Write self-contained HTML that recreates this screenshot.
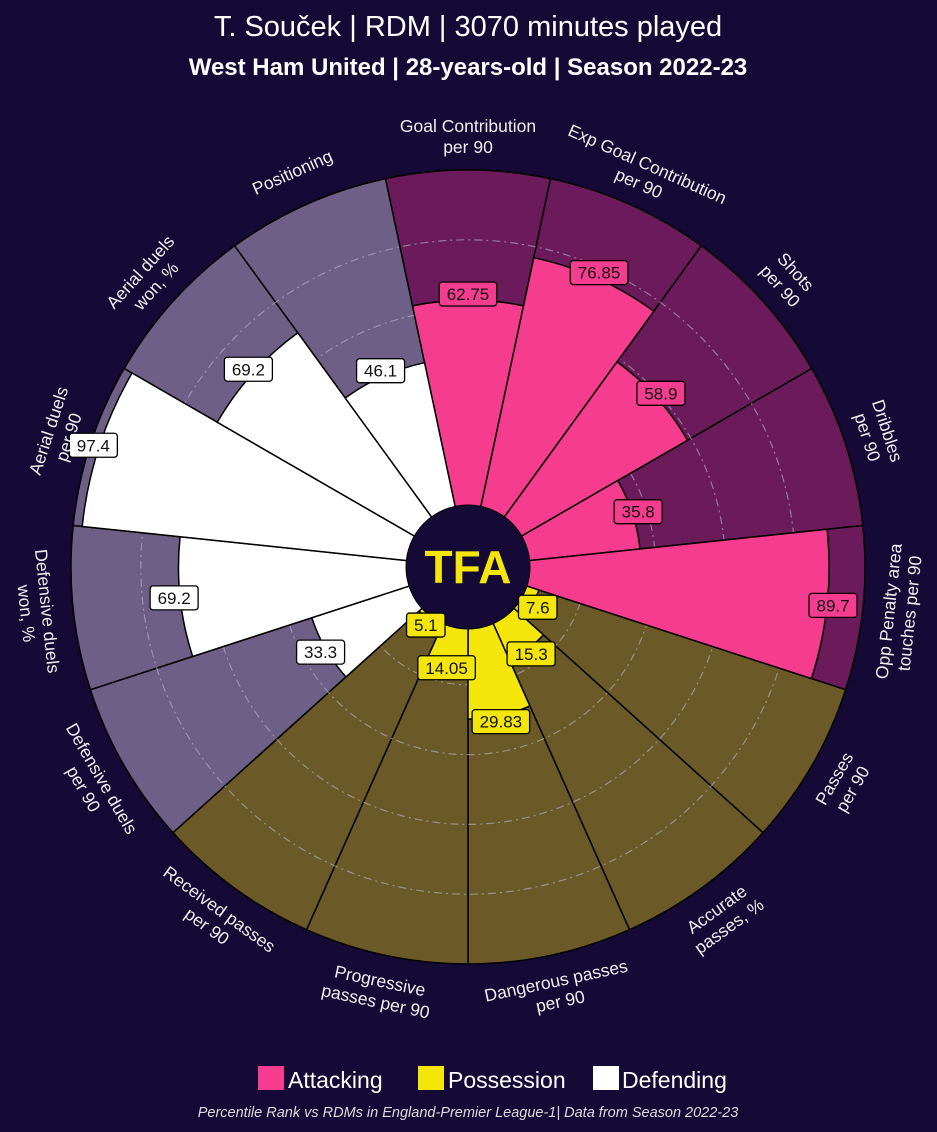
<!DOCTYPE html>
<html><head><meta charset="utf-8"><style>
body{margin:0;background:#150936;}
svg{display:block;font-family:"Liberation Sans",sans-serif;}
</style></head><body>
<svg id="c" width="937" height="1132" viewBox="0 0 937 1132">
<rect width="937" height="1132" fill="#150936"/>
<text x="468" y="36" fill="#fff" font-size="29" text-anchor="middle">T. Souček | RDM | 3070 minutes played</text>
<text x="468" y="75" fill="#fff" font-size="24" font-weight="bold" text-anchor="middle">West Ham United | 28-years-old | Season 2022-23</text>
<g id="plot"></g>
<g>
<rect x="258" y="1066" width="26" height="24" fill="#F53C8F"/>
<text x="288" y="1088" fill="#fff" font-size="23">Attacking</text>
<rect x="418" y="1066" width="26" height="24" fill="#F5E60A"/>
<text x="448" y="1088" fill="#fff" font-size="23">Possession</text>
<rect x="593" y="1066" width="26" height="24" fill="#ffffff"/>
<text x="622" y="1088" fill="#fff" font-size="23">Defending</text>
</g>
<text x="468" y="1117" fill="#ddd" font-size="14.5" font-style="italic" text-anchor="middle">Percentile Rank vs RDMs in England-Premier League-1| Data from Season 2022-23</text>
</svg>
<script>
const categories=[["Goal Contribution","per 90"],["Exp Goal Contribution","per 90"],["Shots","per 90"],["Dribbles","per 90"],["Opp Penalty area","touches per 90"],["Passes","per 90"],["Accurate","passes, %"],["Dangerous passes","per 90"],["Progressive","passes per 90"],["Received passes","per 90"],["Defensive duels","per 90"],["Defensive duels","won, %"],["Aerial duels","per 90"],["Aerial duels","won, %"],["Positioning"]];
const values=[62.75,76.85,58.9,35.8,89.7,7.6,15.3,29.83,14.05,5.1,33.3,69.2,97.4,69.2,46.1];
const groups=["A","A","A","A","A","P","P","P","P","P","D","D","D","D","D"];
const gridTicks=[20,40,60,80];
const NS="http://www.w3.org/2000/svg";
const cx=468,cy=567,r0=48,R=397,n=values.length,step=360/n;
const fillC={A:"#F53C8F",P:"#F5E60A",D:"#ffffff"};
const bgC={A:"#6B1A5A",P:"#6B5A28",D:"#6E5F86"};
const rad=v=>r0+v/100*(R-r0);
function pt(r,a){const t=a*Math.PI/180;return [cx+r*Math.sin(t),cy-r*Math.cos(t)];}
function wedge(r1,r2,a1,a2){const p1=pt(r1,a1),p2=pt(r2,a1),p3=pt(r2,a2),p4=pt(r1,a2);
return `M${p1}L${p2}A${r2},${r2} 0 0 1 ${p3}L${p4}A${r1},${r1} 0 0 0 ${p1}Z`;}
const g=document.getElementById('plot');
function mk(tag,attrs){const e=document.createElementNS(NS,tag);for(const k in attrs)e.setAttribute(k,attrs[k]);g.appendChild(e);return e;}
values.forEach((v,i)=>{const a1=i*step-step/2,a2=a1+step;
const bg=mk('path',{d:wedge(r0,R,a1,a2),fill:bgC[groups[i]],stroke:'#000','stroke-width':1.5});

});
gridTicks.forEach(t=>{const c=mk('circle',{cx:cx,cy:cy,r:rad(t),fill:'none',stroke:'#b8b8c8','stroke-opacity':0.6,'stroke-dasharray':'8 4 2 4','stroke-width':1.2});

});
values.forEach((v,i)=>{const a1=i*step-step/2,a2=a1+step;
const s=mk('path',{d:wedge(r0,rad(v),a1,a2),fill:fillC[groups[i]],stroke:'#000','stroke-width':1.5});

});
const cc=mk('circle',{cx:cx,cy:cy,r:62,fill:'#150936',stroke:'#000','stroke-width':1});


const tfa=mk('text',{x:cx,y:cy+16,fill:'#F5E60A','font-size':46,'font-weight':'bold','text-anchor':'middle'});
tfa.textContent='TFA';


values.forEach((v,i)=>{const a=i*step;const [x,y]=pt(rad(v)+6,a);const txt=String(v);const w=txt.length*9.5+10;
const b=mk('rect',{x:x-w/2,y:y-12,width:w,height:24,rx:3,fill:fillC[groups[i]],stroke:'#000','stroke-width':1.3});


const t=mk('text',{x:x,y:y+6,'font-size':17,fill:'#111','text-anchor':'middle'});t.textContent=txt;


const [lx,ly]=pt(432,a);let rot=(a>90&&a<270)?a-180:a;
const lt=mk('text',{'font-size':17.5,fill:'#eee','text-anchor':'middle',transform:`translate(${lx},${ly}) rotate(${rot})`});


const lines=categories[i];const off=lines.length===2?-3:6;
lines.forEach((ln,j)=>{const ts=document.createElementNS(NS,'tspan');ts.setAttribute('x',0);ts.setAttribute('y',off+j*21);ts.textContent=ln;lt.appendChild(ts);});});
</script>
</body></html>
